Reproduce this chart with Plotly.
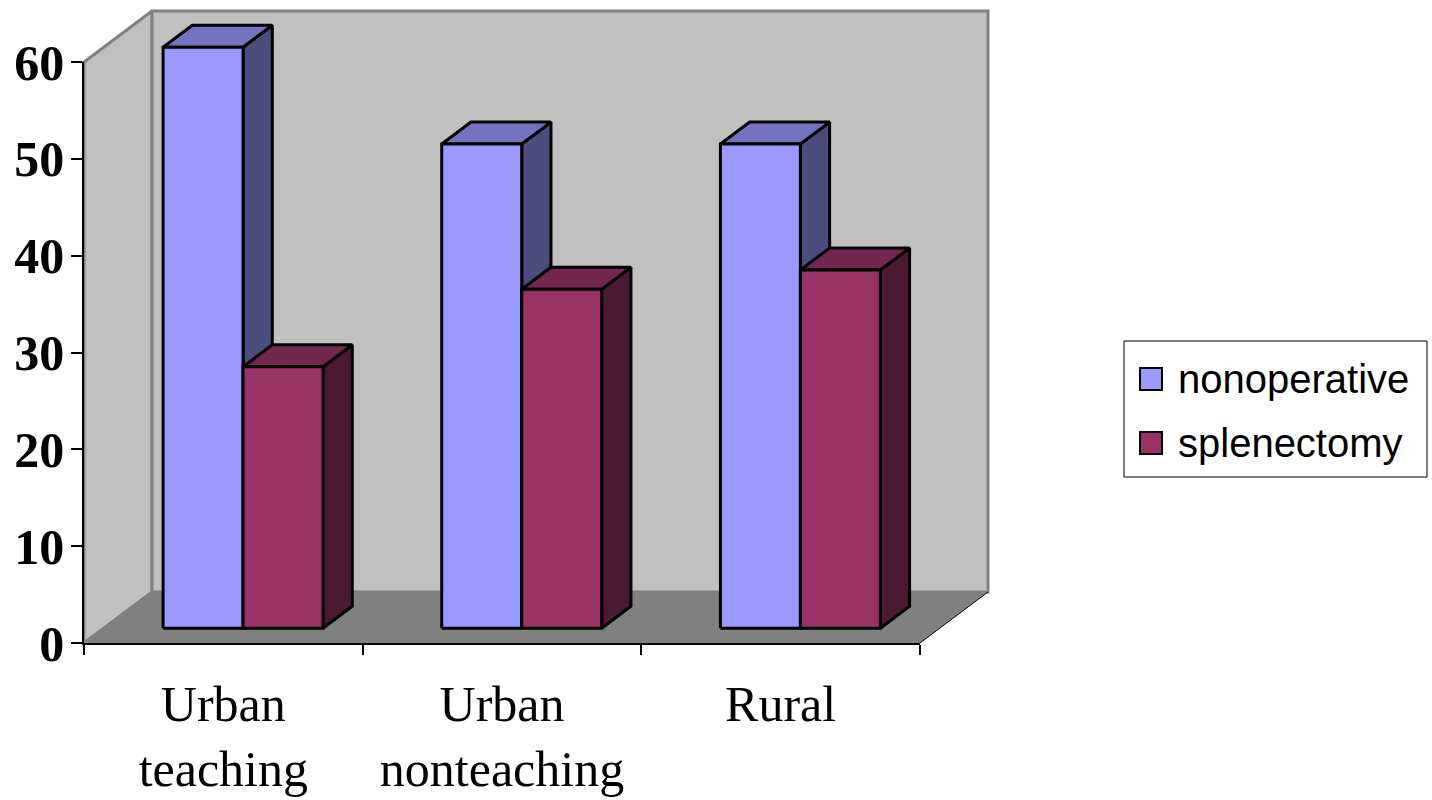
import plotly.graph_objects as go

# ---- data ----
categories = ["Urban teaching", "Urban nonteaching", "Rural"]
tick_labels = ["Urban<br>teaching", "Urban<br>nonteaching", "Rural"]
series_names = ["nonoperative", "splenectomy"]
nonoperative = [60, 50, 50]
splenectomy = [27, 35, 37]
y_ticks = [0, 10, 20, 30, 40, 50, 60]

# ---- styling ----
W, H = 1432, 800
FRONT_X0, FRONT_X1 = 84, 920       # pixel span of the front x axis
FRONT_Y0, FRONT_Y60 = 643, 62      # pixel rows of value 0 and value 60
Y_MAX = 60
DEPTH_PX = (68, 51)                # oblique depth of the whole box, in pixels
BAR_D0, BAR_D1 = 0.29, 0.72        # bar front / back as fraction of the depth
BAR_W = 0.287                      # bar width in category units

face_colors = {
    "nonoperative": ("#9999FF", "#7373C0", "#4C4C7F"),
    "splenectomy": ("#993366", "#73264F", "#4C1933"),
}

sx = (FRONT_X1 - FRONT_X0) / len(categories)
sy = (FRONT_Y0 - FRONT_Y60) / Y_MAX
DX = DEPTH_PX[0] / sx
DY = DEPTH_PX[1] / sy

x_range = [-0.5 - FRONT_X0 / sx, -0.5 + (W - FRONT_X0) / sx]
y_range = [-(H - FRONT_Y0) / sy, FRONT_Y0 / sy]


def proj(x, v, d):
    """Oblique projection of (category x, value v, depth d) onto the page."""
    return x + d * DX, v + d * DY


def poly(points, fill, line_color, line_width):
    xs, ys = zip(*[proj(*p) for p in points])
    xs = list(xs) + [xs[0]]
    ys = list(ys) + [ys[0]]
    return go.Scatter(
        x=xs, y=ys, mode="lines", fill="toself", fillcolor=fill,
        line=dict(color=line_color, width=line_width),
        hoverinfo="skip", showlegend=False, xaxis="x", yaxis="y",
    )


fig = go.Figure()

lo, hi = -0.5, len(categories) - 0.5

# walls and floor
fig.add_trace(poly([(lo, 0, 0), (lo, Y_MAX, 0), (lo, Y_MAX, 1), (lo, 0, 1)],
                   "#C0C0C0", "#808080", 3))
fig.add_trace(poly([(lo, 0, 1), (hi, 0, 1), (hi, Y_MAX, 1), (lo, Y_MAX, 1)],
                   "#C0C0C0", "#808080", 3))
fig.add_trace(poly([(lo, 0, 0), (hi, 0, 0), (hi, 0, 1), (lo, 0, 1)],
                   "#808080", "rgba(0,0,0,0)", 0))
ex, ey = zip(proj(hi, 0, 0), proj(hi, 0, 1))
fig.add_trace(go.Scatter(x=list(ex), y=list(ey), mode="lines",
                         line=dict(color="#000000", width=1),
                         hoverinfo="skip", showlegend=False))

# bars, drawn left to right so each front face covers its neighbour's side
values = {"nonoperative": nonoperative, "splenectomy": splenectomy}
for i, _cat in enumerate(categories):
    for j, name in enumerate(series_names):
        v = values[name][i]
        x0 = i - BAR_W + j * BAR_W
        x1 = x0 + BAR_W
        front, top, side = face_colors[name]
        fig.add_trace(poly([(x1, 0, BAR_D0), (x1, 0, BAR_D1),
                            (x1, v, BAR_D1), (x1, v, BAR_D0)], side, "#000000", 3))
        fig.add_trace(poly([(x0, v, BAR_D0), (x1, v, BAR_D0),
                            (x1, v, BAR_D1), (x0, v, BAR_D1)], top, "#000000", 3))
        fig.add_trace(poly([(x0, 0, BAR_D0), (x1, 0, BAR_D0),
                            (x1, v, BAR_D0), (x0, v, BAR_D0)], front, "#000000", 3))

# carrier trace for the visible category / value axes
fig.add_trace(go.Scatter(x=categories, y=[None] * len(categories), mode="markers",
                         xaxis="x2", yaxis="y2", hoverinfo="skip", showlegend=False))


def px_x(p):
    return p / W


def px_y(p):
    return 1 - p / H


# legend box
shapes = [dict(type="rect", xref="paper", yref="paper",
               x0=px_x(1124), x1=px_x(1427), y0=px_y(477), y1=px_y(341),
               line=dict(color="#000000", width=1), fillcolor="#FFFFFF")]
annotations = []
for k, (name, cy) in enumerate(zip(series_names, [379, 443])):
    shapes.append(dict(type="rect", xref="paper", yref="paper",
                       x0=px_x(1140), x1=px_x(1162), y0=px_y(cy + 11), y1=px_y(cy - 11),
                       line=dict(color="#000000", width=2),
                       fillcolor=face_colors[name][0]))
    annotations.append(dict(xref="paper", yref="paper", x=px_x(1176), y=px_y(cy),
                            xanchor="left", yanchor="middle", showarrow=False,
                            text=name,
                            font=dict(family="Liberation Sans", size=40, color="#000000")))

fig.update_layout(
    template="none",
    width=W, height=H, autosize=False,
    margin=dict(l=0, r=0, t=0, b=0, pad=0, autoexpand=False),
    paper_bgcolor="#FFFFFF", plot_bgcolor="rgba(0,0,0,0)",
    showlegend=False,
    xaxis=dict(domain=[0, 1], range=x_range, visible=False, fixedrange=True,
               automargin=False),
    yaxis=dict(domain=[0, 1], range=y_range, visible=False, fixedrange=True,
               automargin=False),
    xaxis2=dict(
        domain=[FRONT_X0 / W, FRONT_X1 / W], anchor="y2", automargin=False,
        type="category", categoryorder="array", categoryarray=categories,
        range=[lo, hi], tickvals=categories, ticktext=tick_labels,
        tickson="boundaries", ticks="outside", ticklen=10, tickwidth=1.5,
        tickcolor="#000000", showline=True, linecolor="#000000", linewidth=1.5,
        showgrid=False, zeroline=False, fixedrange=True,
        tickfont=dict(family="Liberation Serif", size=50, color="#000000"),
        ticklabelstandoff=16,
    ),
    yaxis2=dict(
        domain=[(H - FRONT_Y0) / H, (H - FRONT_Y60) / H], anchor="x2",
        automargin=False,
        range=[0, Y_MAX], tickvals=y_ticks, ticks="outside", ticklen=11,
        tickwidth=1.5, tickcolor="#000000", showline=True, linecolor="#000000",
        linewidth=1.5, showgrid=False, zeroline=False, fixedrange=True,
        tickfont=dict(family="Liberation Serif", size=50, color="#000000",
                      weight="bold"),
        ticklabelstandoff=-3,
    ),
    shapes=shapes,
    annotations=annotations,
)

fig.write_html("out.html", config={"displayModeBar": False})
